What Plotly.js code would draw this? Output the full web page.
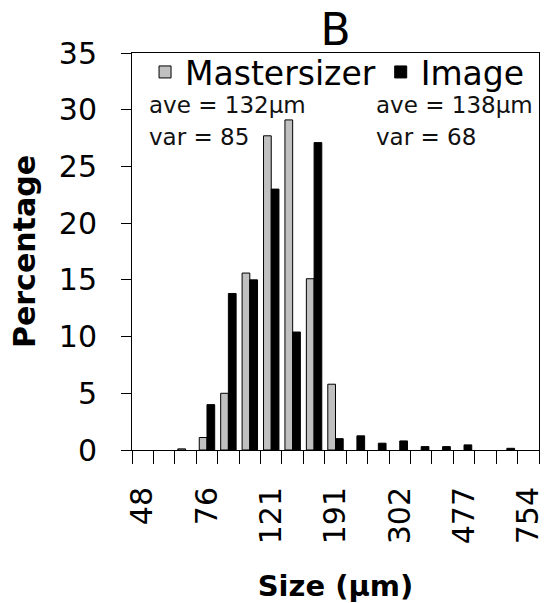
<!DOCTYPE html>
<html>
<head>
<meta charset="utf-8">
<script src="https://cdn.plot.ly/plotly-3.0.1.min.js"></script>
<style>html,body{margin:0;padding:0;background:#fff;}#chart{width:546px;height:603px;}</style>
</head>
<body>
<div id="chart"></div>
<script>
// Size classes (µm), geometric bins
const sizes = ['48','56','65','76','88','103','121','140','164','191','222','259','302','352','410','477','556','647','754'];
const tickLabels = ['48','76','121','191','302','477','754'];
const mastersizer = [0, 0, 0.1, 1.1, 5.0, 15.6, 27.7, 29.1, 15.1, 5.8, 0, 0, 0, 0, 0, 0, 0, 0, 0];
const image =       [0, 0, 0, 4.0, 13.8, 15.0, 23.0, 10.4, 27.1, 1.0, 1.25, 0.6, 0.8, 0.3, 0.3, 0.45, 0, 0.15, 0];
const seriesNames = ['Mastersizer', 'Image'];
const statsText = [['ave = 132µm', 'var = 85'], ['ave = 138µm', 'var = 68']];

const FONT = 'DejaVu Sans, Arial, sans-serif';
const nz = arr => arr.map(v => (v === 0 ? null : v));

const traces = [
  {type: 'bar', name: seriesNames[0], x: sizes, y: nz(mastersizer),
   marker: {color: '#c0c0c0', line: {color: '#000', width: 1}}},
  {type: 'bar', name: seriesNames[1], x: sizes, y: nz(image),
   marker: {color: '#000', line: {color: '#000', width: 1}}}
];

const ticktext = sizes.map(s => tickLabels.includes(s) ? s : '');

const annFont = {family: FONT, size: 23, color: '#111'};
const layout = {
  width: 546, height: 603,
  margin: {l: 132, r: 7, t: 53, b: 153},
  paper_bgcolor: '#fff', plot_bgcolor: '#fff',
  font: {family: FONT, color: '#000'},
  barmode: 'group', bargap: 0.28, bargroupgap: 0,
  showlegend: true,
  title: {text: 'B', font: {family: FONT, size: 44, color: '#000'}, x: 0.5, xref: 'paper', y: 1 - 30/603, yanchor: 'middle'},
  legend: {orientation: 'h', x: 0.505, xanchor: 'center', y: (450-72)/397, yanchor: 'middle',
           font: {family: FONT, size: 33, color: '#000'}, bgcolor: 'rgba(0,0,0,0)', itemwidth: 30,
           tracegroupgap: 0},
  xaxis: {
    type: 'category', range: [-0.5, sizes.length - 0.5],
    tickmode: 'array', tickvals: sizes, ticktext: ticktext,
    tickson: 'boundaries', ticks: 'outside', ticklen: 13, tickcolor: '#000', tickwidth: 1,
    tickangle: -90, tickfont: {family: FONT, size: 30, color: '#000'}, ticklabelstandoff: 24,
    showline: true, linecolor: '#000', linewidth: 1, mirror: true,
    showgrid: false, zeroline: false,
    title: {text: '<b>Size (µm)</b>', font: {family: FONT, size: 29, color: '#000'}, standoff: 38}
  },
  yaxis: {
    range: [0, 35], dtick: 5, tick0: 0,
    ticks: 'outside', ticklen: 10, tickcolor: '#000', tickwidth: 1,
    tickfont: {family: FONT, size: 30, color: '#000'}, ticklabelstandoff: 18,
    showline: true, linecolor: '#000', linewidth: 1, mirror: true,
    showgrid: false, zeroline: false,
    title: {text: '<b>Percentage</b>', font: {family: FONT, size: 30, color: '#000'}, standoff: 14}
  },
  annotations: [
    {xref: 'paper', yref: 'paper', x: (147-132)/407, y: (450-105)/397, xanchor: 'left', yanchor: 'middle',
     text: statsText[0][0], showarrow: false, font: annFont},
    {xref: 'paper', yref: 'paper', x: (147-132)/407, y: (450-137)/397, xanchor: 'left', yanchor: 'middle',
     text: statsText[0][1], showarrow: false, font: annFont},
    {xref: 'paper', yref: 'paper', x: (374-132)/407, y: (450-105)/397, xanchor: 'left', yanchor: 'middle',
     text: statsText[1][0], showarrow: false, font: annFont},
    {xref: 'paper', yref: 'paper', x: (374-132)/407, y: (450-137)/397, xanchor: 'left', yanchor: 'middle',
     text: statsText[1][1], showarrow: false, font: annFont}
  ]
};

Plotly.newPlot('chart', traces, layout, {displayModeBar: false, staticPlot: true});
</script>
</body>
</html>
